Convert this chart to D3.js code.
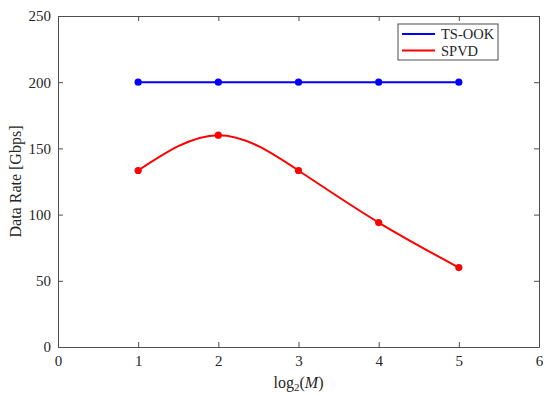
<!DOCTYPE html>
<html lang="en">
<head>
    <meta charset="UTF-8">
    <title>Data Rate vs log2(M)</title>
    <script src="https://d3js.org/d3.v7.min.js"></script>
    <style>
        body { margin: 0; background: #fff; }
        svg { display: block; }
        text { font-family: "Liberation Serif", "DejaVu Serif", serif; fill: #262626; }
    </style>
</head>
<body>
    <svg width="550" height="396"></svg>

    <script>
        // Chart data
        const xValues = [1, 2, 3, 4, 5];
        const tsOok = [200, 200, 200, 200, 200];
        const spvd = [133.3, 160, 133.3, 94, 60];
        const xTicks = [0, 1, 2, 3, 4, 5, 6];
        const yTicks = [0, 50, 100, 150, 200, 250];

        const margin = {top: 16, right: 11, bottom: 49, left: 58};
        const width = 550 - margin.left - margin.right;
        const height = 396 - margin.top - margin.bottom;

        const svg = d3.select("svg");
        const g = svg.append("g").attr("transform", `translate(${margin.left},${margin.top})`);

        const x = d3.scaleLinear().domain([0, 6]).range([0, width]);
        const y = d3.scaleLinear().domain([0, 250]).range([height, 0]);

        const axisColor = "#4d4d4d";
        const fmt = d3.format("d");

        // Box axes with inward ticks
        function styleAxis(sel, hideText) {
            sel.attr("font-family", null).attr("font-size", null);
            sel.select(".domain").attr("stroke", axisColor);
            sel.selectAll(".tick line").attr("stroke", axisColor);
            if (hideText) sel.selectAll(".tick text").remove();
        }

        g.append("g").attr("transform", `translate(0,${height})`)
            .call(d3.axisBottom(x).tickValues(xTicks).tickFormat(fmt).tickSizeInner(-5).tickSizeOuter(0).tickPadding(8))
            .call(s => styleAxis(s, false));
        g.append("g")
            .call(d3.axisTop(x).tickValues(xTicks).tickSizeInner(-5).tickSizeOuter(0))
            .call(s => styleAxis(s, true));
        g.append("g")
            .call(d3.axisLeft(y).tickValues(yTicks).tickFormat(fmt).tickSizeInner(-5).tickSizeOuter(0).tickPadding(7))
            .call(s => styleAxis(s, false));
        g.append("g").attr("transform", `translate(${width},0)`)
            .call(d3.axisRight(y).tickValues(yTicks).tickSizeInner(-5).tickSizeOuter(0))
            .call(s => styleAxis(s, true));

        g.selectAll(".tick text")
            .style("font-family", "'Liberation Serif', serif")
            .style("font-size", "15px")
            .attr("fill", "#262626");

        // Series
        const series = [
            {name: "TS-OOK", values: tsOok, color: "#0000ff", curve: d3.curveLinear},
            {name: "SPVD", values: spvd, color: "#ff0000", curve: d3.curveNatural}
        ];

        series.forEach(s => {
            const pts = xValues.map((xv, i) => [xv, s.values[i]]);
            const line = d3.line().x(d => x(d[0])).y(d => y(d[1])).curve(s.curve);
            g.append("path").datum(pts)
                .attr("fill", "none")
                .attr("stroke", s.color)
                .attr("stroke-width", 2)
                .attr("d", line);
            g.selectAll(null).data(pts).enter().append("circle")
                .attr("cx", d => x(d[0]))
                .attr("cy", d => y(d[1]))
                .attr("r", 3.6)
                .attr("fill", s.color);
        });

        // Legend
        const legend = svg.append("g").attr("transform", "translate(398,24)");
        legend.append("rect")
            .attr("width", 100).attr("height", 36)
            .attr("fill", "#fff").attr("stroke", axisColor);
        series.forEach((s, i) => {
            const ly = 10 + i * 16.5;
            legend.append("line")
                .attr("x1", 4).attr("x2", 37).attr("y1", ly).attr("y2", ly)
                .attr("stroke", s.color).attr("stroke-width", 2);
            legend.append("text")
                .attr("x", 43).attr("y", ly + 5)
                .attr("font-size", 14.5)
                .text(s.name);
        });

        // Axis labels
        const xl = svg.append("text")
            .attr("x", margin.left + width / 2)
            .attr("y", 388)
            .attr("text-anchor", "middle")
            .attr("font-size", 16);
        xl.append("tspan").text("log");
        xl.append("tspan").attr("font-size", 11).attr("dy", 3).text("2");
        xl.append("tspan").attr("dy", -3).text("(");
        xl.append("tspan").attr("font-style", "italic").text("M");
        xl.append("tspan").text(")");

        svg.append("text")
            .attr("transform", `translate(21,${margin.top + height / 2}) rotate(-90)`)
            .attr("text-anchor", "middle")
            .attr("font-size", 16)
            .text("Data Rate [Gbps]");
    </script>
</body>
</html>
